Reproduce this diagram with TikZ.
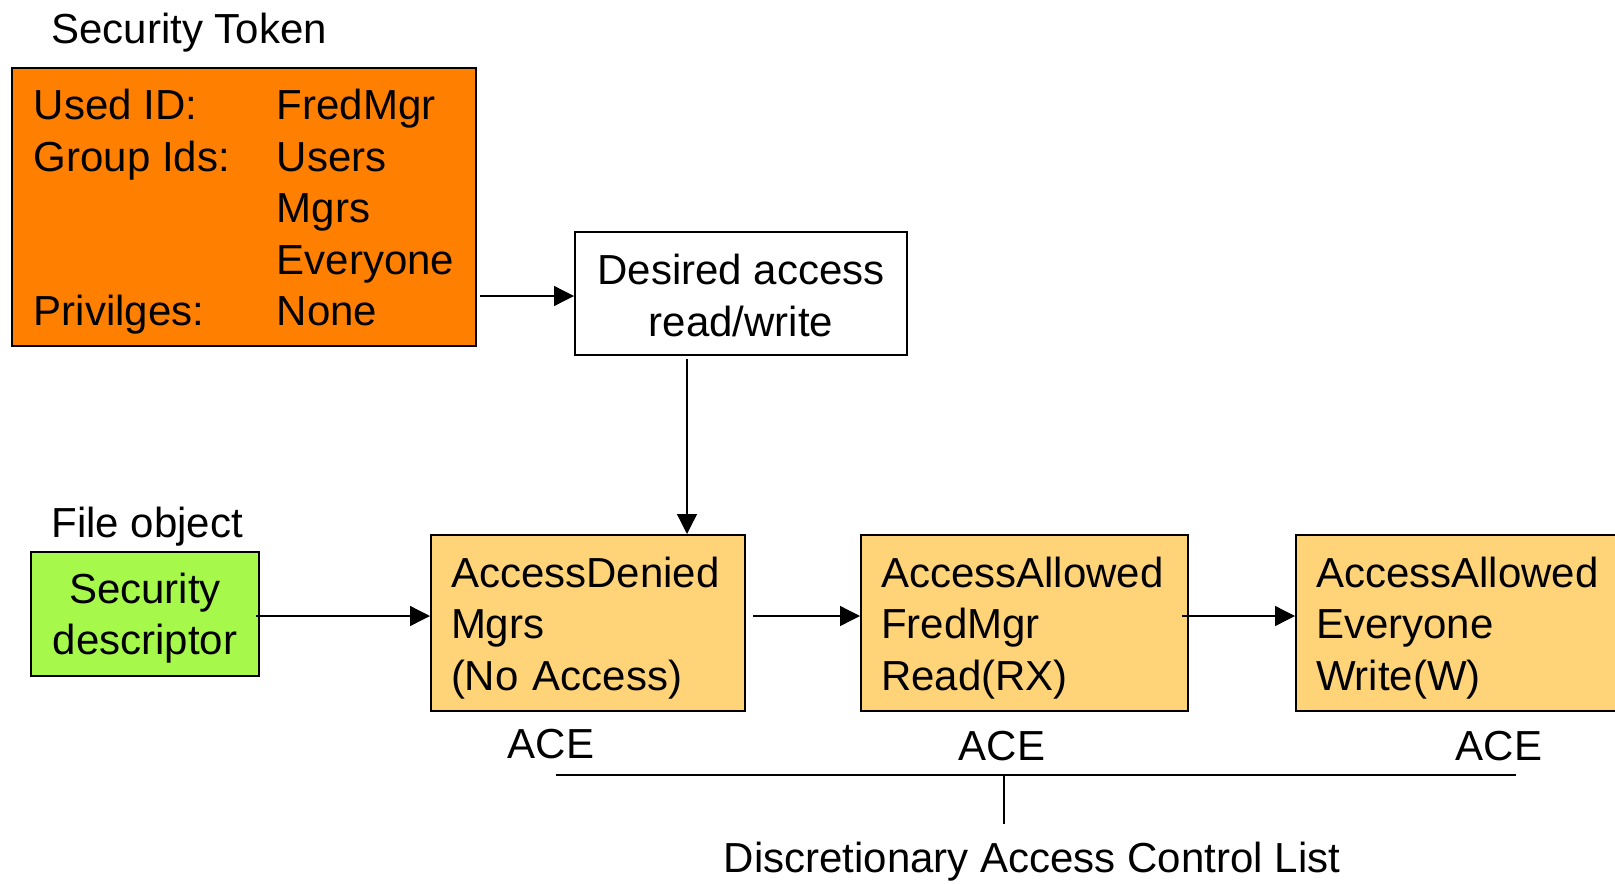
\documentclass[tikz,border=0pt]{standalone}
\usepackage{fontspec}
\setmainfont{Liberation Sans}
\usetikzlibrary{arrows.meta}
\definecolor{tokenorange}{HTML}{FF7F00}
\definecolor{acefill}{HTML}{FFD479}
\definecolor{sdgreen}{HTML}{A6F94A}
% set a line a little lower inside its box, keeping its size
\newcommand{\lowline}[2][2.5pt]{\raisebox{-#1}[\height][\depth]{#2}}

\begin{document}
\begin{tikzpicture}[x=0.5pt,y=-0.5pt,
  every node/.style={font=\fontsize{21pt}{25.75pt}\selectfont, inner sep=0pt},
  box/.style={draw, line width=1pt, inner xsep=10pt},
  acebox/.style={box, fill=acefill, anchor=west, minimum height=88pt, align=left},
  arr/.style={-{Triangle[length=10pt,width=10pt]}, line width=0.65pt}]
  \clip (0,0) rectangle (1615,883);

  % token and requested access
  \node[anchor=west] (toklabel) at (51,33) {Security Token};
  \node[box, fill=tokenorange, minimum width=232pt, minimum height=138.5pt, align=left] (token) at (244,207)
    {\lowline{\makebox[121.5pt][l]{Used ID:}FredMgr}\\
     \lowline{\makebox[121.5pt][l]{Group Ids:}Users}\\
     \lowline{\makebox[121.5pt]{}Mgrs}\\
     \lowline{\makebox[121.5pt]{}Everyone}\\
     \lowline{\makebox[121.5pt][l]{Privilges:}None}};
  \node[box, minimum width=166pt, minimum height=61.5pt, align=center] (desired) at (741,293.5)
    {\lowline[1pt]{Desired access}\\\lowline[1pt]{read/write}};

  % file object
  \node[anchor=west] (filelabel) at (51,527) {File object};
  \node[box, fill=sdgreen, minimum width=114pt, minimum height=62pt, align=center] (sd) at (145,614)
    {\lowline[2pt]{Security}\\\lowline[2pt]{descriptor}};

  % the ACEs
  \node[acebox, text width=137pt] (ace1) at (430,623)
    {\lowline{AccessDenied}\\\lowline{Mgrs}\\\lowline{(No Access)}};
  \node[acebox, text width=143.5pt] (ace2) at (860,623)
    {\lowline{AccessAllowed}\\\lowline{FredMgr}\\\lowline{Read(RX)}};
  \node[acebox, text width=160pt] (ace3) at (1295,623)
    {\lowline{AccessAllowed}\\\lowline{Everyone}\\\lowline{Write(W)}};
  \node (acelabel1) at (551,744) {ACE};
  \node (acelabel2) at (1002,746) {ACE};
  \node (acelabel3) at (1499,746) {ACE};

  % arrows
  \draw[arr, shorten <=1.5pt] ([yshift=-1.25pt]token.east |- desired.west) -- ([yshift=-1.25pt]desired.west);
  \draw[arr, shorten <=1.5pt] ([xshift=-27pt]desired.south) -- ([xshift=-27pt]desired.south |- ace1.north);
  \draw[arr, shorten <=-2pt] ([yshift=-1pt]sd.east) -- ([yshift=-1pt]sd.east -| ace1.west);
  \draw[arr, shorten <=3.5pt] ([yshift=-1pt]ace1.east |- sd.east) -- ([yshift=-1pt]ace2.west |- sd.east);
  \draw[arr, shorten <=-3.5pt] ([yshift=-1pt]ace2.east |- sd.east) -- ([yshift=-1pt]ace3.west |- sd.east);

  % bracket for the list
  \node (dacl) at (1032,862) {Discretionary Access Control List};
  \coordinate (dacl-l) at (556,775);
  \coordinate (dacl-r) at (1516,775);
  \coordinate (dacl-m) at (1004,775);
  \draw[line width=1pt] (dacl-l) -- (dacl-r);
  \draw[line width=0.65pt] (dacl-m) -- (1004,824);
\end{tikzpicture}
\end{document}
